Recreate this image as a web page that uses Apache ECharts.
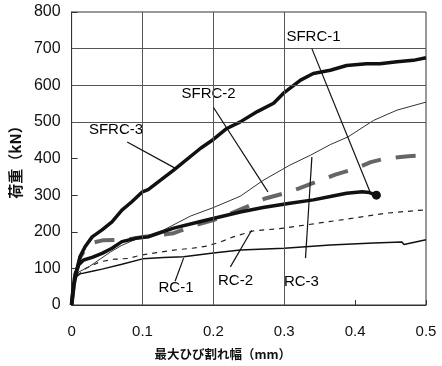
<!DOCTYPE html>
<html>
<head>
<meta charset="utf-8">
<script src="https://cdn.jsdelivr.net/npm/echarts@6/dist/echarts.min.js"></script>
<style>
html,body{margin:0;padding:0;background:#fff;}
#chart{width:442px;height:366px;}
</style>
</head>
<body>
<div id="chart"></div>
<script>
// ---- data (crack width mm, load kN) ----
const sfrc3X = [0,0.003,0.0075,0.012,0.019,0.029,0.043,0.057,0.071,0.085,0.1,0.108,0.144,0.182,0.2,0.219,0.238,0.262,0.285,0.3,0.323,0.341,0.365,0.388,0.416,0.435,0.459,0.482,0.5];
const sfrc3Y = [0,50,95,132,159,186,205,227,259,282,309,315,368,428,452,482,500,528,551,580,614,632,641,654,659,659,664,668,675];

const sfrc1X = [0,0.002,0.005,0.01,0.017,0.029,0.043,0.057,0.071,0.09,0.108,0.144,0.182,0.238,0.27,0.308,0.341,0.365,0.388,0.41,0.42,0.43];
const sfrc1Y = [0,45,85,110,123,130,141,155,173,182,186,210,228,254,266,278,287,296,305,309,307,300];

const sfrc2X = [0,0.003,0.0075,0.012,0.02,0.03,0.045,0.076,0.1,0.12,0.144,0.168,0.2,0.225,0.247,0.272,0.3,0.32,0.345,0.372,0.4,0.422,0.445,0.475,0.5];
const sfrc2Y = [0,50,95,130,155,170,177,178,186,190,196,214,232,250,268,290,305,318,336,356,372,390,401,406,409];

const rc3X = [0,0.003,0.01,0.025,0.04,0.055,0.07,0.085,0.1,0.13,0.168,0.2,0.238,0.27,0.308,0.337,0.365,0.39,0.426,0.459,0.5];
const rc3Y = [0,60,90,105,125,145,162,175,185,205,243,266,297,340,382,409,438,459,504,532,554];

const rc2X = [0,0.003,0.008,0.02,0.04,0.06,0.08,0.097,0.12,0.144,0.17,0.191,0.21,0.228,0.256,0.3,0.35,0.397,0.445,0.5];
const rc2Y = [0,55,80,100,118,125,127,136,143,150,155,161,172,186,202,210,224,237,251,260];

const rc1X = [0,0.001,0.003,0.007,0.012,0.029,0.043,0.071,0.1,0.13,0.158,0.2,0.238,0.3,0.365,0.426,0.466,0.469,0.5];
const rc1Y = [0,30,60,78,85,92,98,111,126,130,132,142,150,155,164,169,172,165,178];

// annotation labels
const labelNames = ['SFRC-1','SFRC-2','SFRC-3','RC-1','RC-2','RC-3'];
const labelX = [0.342, 0.194, 0.0634, 0.148, 0.232, 0.325];
const labelY = [731, 575, 477, 46, 65, 63];
// pointer lines from label to curve
const pointerFrom = [[0.339,700],[0.2,540],[0.0784,445],[0.158,128],[0.254,204],[0.339,404]];
const pointerTo   = [[0.421,309],[0.277,309],[0.1465,373],[0.146,65],[0.224,104],[0.330,128]];

// axis ticks / grid lines
const xTicks = [0,0.1,0.2,0.3,0.4,0.5];
const yTicks = [0,100,200,300,400,500,600,700,800];
const xGrid = [0.1,0.2,0.3];
const yGrid = [500,600,700];

function pairs(xs, ys){ return xs.map((x,i)=>[x, ys[i]]); }

const chart = echarts.init(document.getElementById('chart'));
const fontNum = '"Liberation Sans", Arial, sans-serif';
const fontJP = '"Noto Sans CJK JP", sans-serif';

const option = {
  animation: false,
  backgroundColor: '#fff',
  grid: {left: 71, right: 16, top: 12, bottom: 61, show: true, borderColor: '#333', borderWidth: 1, backgroundColor: 'transparent'},
  xAxis: {
    type: 'value', min: xTicks[0], max: xTicks[xTicks.length-1], interval: 0.1,
    name: '最大ひび割れ幅（mm）', nameLocation: 'middle', nameGap: 43,
    nameTextStyle: {fontFamily: fontJP, fontSize: 12.5, fontWeight: 'bold', color: '#111', padding: [0, 52, 0, 0]},
    axisLine: {show: true, lineStyle: {color: '#333', width: 1}},
    axisTick: {show: true, inside: true, length: 5, lineStyle: {color: '#333'}},
    axisLabel: {fontFamily: fontNum, fontSize: 15, color: '#111', margin: 19},
    splitLine: {show: false}
  },
  yAxis: {
    type: 'value', min: yTicks[0], max: yTicks[yTicks.length-1], interval: 100,
    name: '荷重（kN）', nameLocation: 'middle', nameGap: 47, nameRotate: 90,
    nameTextStyle: {fontFamily: fontJP, fontSize: 15, fontWeight: 'bold', color: '#111'},
    axisLine: {show: true, lineStyle: {color: '#333', width: 1}},
    axisTick: {show: true, inside: true, length: 6, lineStyle: {color: '#333'}},
    axisLabel: {fontFamily: fontNum, fontSize: 16, color: '#111', margin: 11},
    splitLine: {show: false}
  },
  series: [
    {
      type: 'line', data: [], z: 1, silent: true,
      markLine: {
        silent: true, symbol: 'none', label: {show: false},
        lineStyle: {color: '#555', width: 1, type: 'solid'},
        data: xGrid.map(v=>({xAxis: v})).concat(yGrid.map(v=>({yAxis: v})))
      }
    },
    {
      type: 'scatter', z: 4, silent: true, symbolSize: 1,
      itemStyle: {color: 'rgba(0,0,0,0)', opacity: 1},
      data: labelNames.map((n,i)=>[labelX[i], labelY[i], n]),
      label: {show: true, position: [0, 0], align: 'center', verticalAlign: 'middle',
        formatter: p=>p.data[2], textBorderWidth: 0,
        fontFamily: fontNum, fontSize: 15, color: '#000', backgroundColor: '#fff', padding: [2,3]}
    },
    {
      type: 'line', data: [], z: 5, silent: true,
      markLine: {
        silent: true, symbol: 'none', label: {show: false},
        lineStyle: {color: '#111', width: 1.2, type: 'solid'},
        data: pointerFrom.map((p,i)=>[{coord: p}, {coord: pointerTo[i]}])
      }
    },
    {name: 'RC-1', type: 'line', z: 3, data: pairs(rc1X, rc1Y), showSymbol: false,
      lineStyle: {color: '#111', width: 1.5}},
    {name: 'RC-2', type: 'line', z: 3, data: pairs(rc2X, rc2Y), showSymbol: false,
      lineStyle: {color: '#222', width: 1.2, type: [5,5]}},
    {name: 'RC-3', type: 'line', z: 3, data: pairs(rc3X, rc3Y), showSymbol: false,
      lineStyle: {color: '#333', width: 1}},
    {name: 'SFRC-2', type: 'line', z: 3, data: pairs(sfrc2X, sfrc2Y), showSymbol: false,
      lineStyle: {color: '#666', width: 4, type: [20,15]}},
    {name: 'SFRC-1', type: 'line', z: 3, data: pairs(sfrc1X, sfrc1Y), showSymbol: true,
      symbol: 'circle', symbolSize: (v, p) => p.dataIndex === sfrc1X.length-1 ? 9 : 0,
      itemStyle: {color: '#111'},
      lineStyle: {color: '#111', width: 3.5}},
    {name: 'SFRC-3', type: 'line', z: 3, data: pairs(sfrc3X, sfrc3Y), showSymbol: false,
      lineStyle: {color: '#111', width: 3.5}}
  ]
};
chart.setOption(option);
</script>
</body>
</html>
